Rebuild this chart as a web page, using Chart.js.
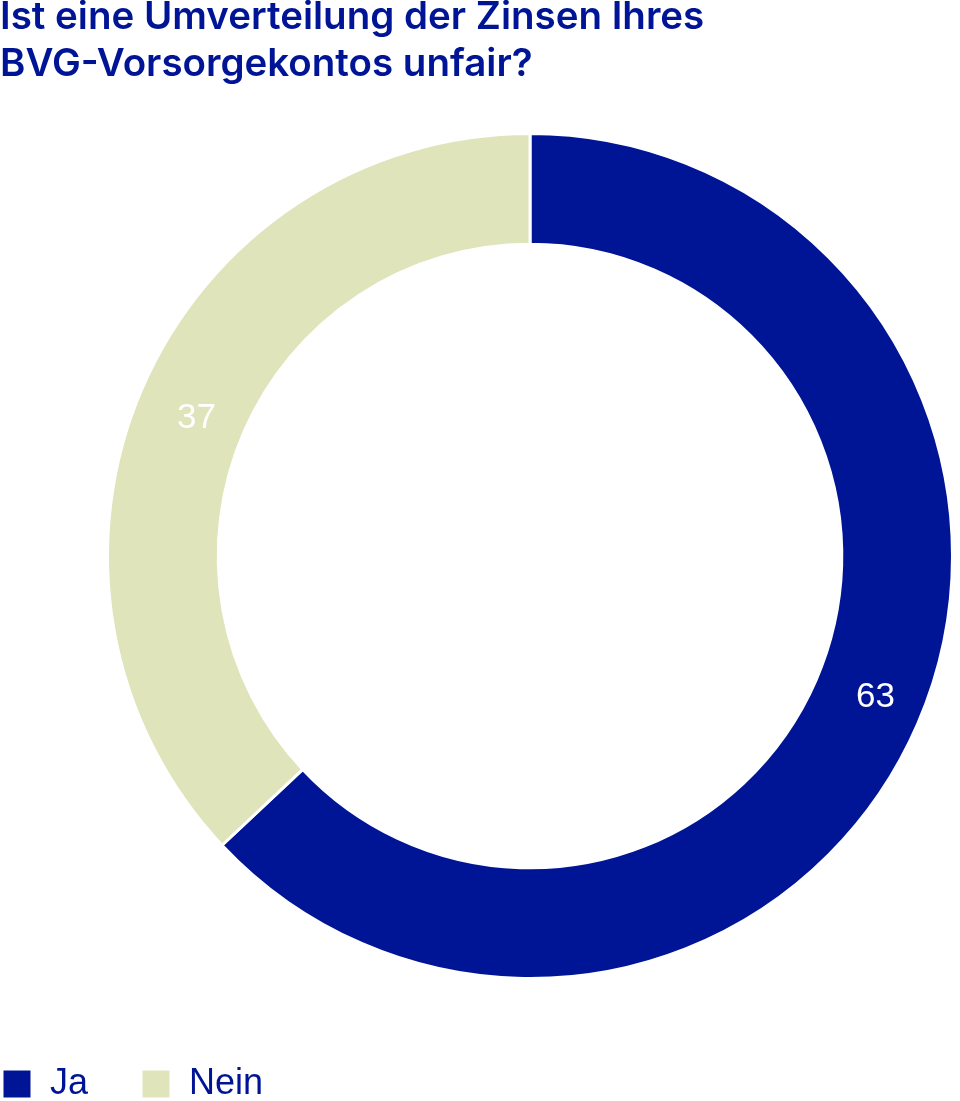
<!DOCTYPE html>
<html>
<head>
<meta charset="utf-8">
<script src="https://cdn.jsdelivr.net/npm/chart.js@4"></script>
<style>
  html, body { margin: 0; padding: 0; background: #fff; }
  #wrap { width: 960px; height: 1101px; }
</style>
</head>
<body>
<div id="wrap"><canvas id="pieChart"></canvas></div>
<script>
const titleLines = ['Ist eine Umverteilung der Zinsen Ihres', 'BVG-Vorsorgekontos unfair?'];
const categories = ['Ja', 'Nein'];
const values = [63, 37];
const colors = ['#001596', '#dfe4ba'];

// white numbers inside each ring segment
const sliceLabels = {
    id: 'sliceLabels',
    afterDatasetsDraw(chart) {
        const c = chart.ctx;
        const meta = chart.getDatasetMeta(0);
        c.save();
        c.fillStyle = '#ffffff';
        c.font = '35px "Liberation Sans", Arial, sans-serif';
        c.textAlign = 'center';
        c.textBaseline = 'middle';
        meta.data.forEach((arc, i) => {
            const { x, y, startAngle, endAngle, innerRadius, outerRadius } = arc.getProps(['x', 'y', 'startAngle', 'endAngle', 'innerRadius', 'outerRadius']);
            const mid = (startAngle + endAngle) / 2 - 0.018;
            const r = (innerRadius + outerRadius) / 2;
            c.fillText(String(values[i]), x + 6 + Math.cos(mid) * r, y + 2 + Math.sin(mid) * r);
        });
        c.restore();
    }
};

// put the ring where the original has it, title and legend flush left
const placeRing = {
    id: 'placeRing',
    afterLayout(chart) {
        const a = chart.chartArea;
        a.left = 105; a.right = 955; a.top = 132; a.bottom = 980;
        a.width = a.right - a.left; a.height = a.bottom - a.top;
        chart.legend.left = -51;
        chart.legend.top = 1013;
    }
};

const ctx = document.getElementById('pieChart').getContext('2d');

const pieChart = new Chart(ctx, {
    type: 'doughnut',
    data: {
        labels: categories,
        datasets: [{
            data: values,
            backgroundColor: colors,
            borderColor: '#ffffff',
            borderWidth: 3,
            hoverOffset: 0
        }]
    },
    options: {
        responsive: true,
        maintainAspectRatio: false,
        animation: false,
        cutout: '73.8%',
        layout: { padding: 0 },
        plugins: {
            title: {
                display: true,
                text: titleLines,
                align: 'start',
                color: '#001596',
                font: { family: 'Inter', size: 38.5, weight: '600', lineHeight: 1.22 },
                padding: { top: -6, bottom: 40 }
            },
            legend: {
                position: 'bottom',
                align: 'start',
                labels: {
                    boxWidth: 30,
                    boxHeight: 30,
                    padding: 53,
                    color: '#001596',
                    font: { family: '"Liberation Sans", Arial, sans-serif', size: 36 }
                }
            },
            tooltip: { enabled: false }
        }
    },
    plugins: [sliceLabels, placeRing]
});
</script>
</body>
</html>
